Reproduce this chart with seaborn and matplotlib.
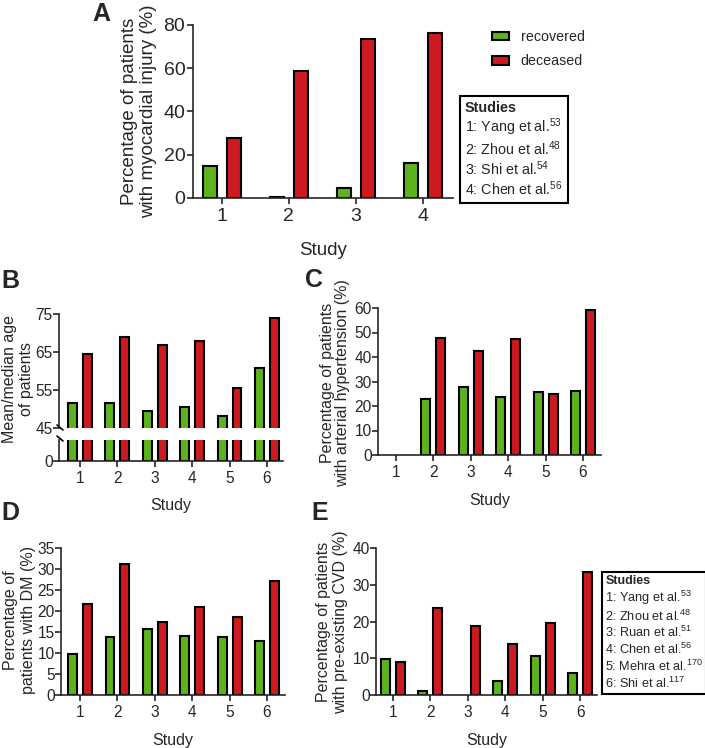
import numpy as np
import pandas as pd
import seaborn as sns
import matplotlib.pyplot as plt
from matplotlib.patches import Patch
from matplotlib.lines import Line2D

# ---- data ----
groups = ["recovered", "deceased"]

studies_a = ["1", "2", "3", "4"]
injury_recovered = [14.6, 0.5, 4.4, 16.0]
injury_deceased = [27.7, 58.9, 73.3, 76.3]

studies_bcde = ["1", "2", "3", "4", "5", "6"]
age_recovered = [51.5, 51.7, 49.5, 50.6, 48.2, 60.7]
age_deceased = [64.5, 68.9, 66.8, 67.9, 55.5, 73.9]

htn_recovered = [np.nan, 22.9, 27.6, 23.7, 25.9, 26.3]
htn_deceased = [np.nan, 47.7, 42.3, 47.3, 24.7, 59.3]

dm_recovered = [9.7, 13.7, 15.7, 14.0, 13.8, 12.8]
dm_deceased = [21.6, 31.3, 17.3, 20.9, 18.5, 27.2]

cvd_recovered = [9.7, 1.2, np.nan, 3.9, 10.5, 6.1]
cvd_deceased = [9.1, 23.8, 18.8, 13.9, 19.7, 33.6]

refs_a = ["1: Yang et al.$^{53}$", "2: Zhou et al.$^{48}$",
          "3: Shi et al.$^{54}$", "4: Chen et al.$^{56}$"]
refs_e = ["1: Yang et al.$^{53}$", "2: Zhou et al.$^{48}$",
          "3: Ruan et al.$^{51}$", "4: Chen et al.$^{56}$",
          "5: Mehra et al.$^{170}$", "6: Shi et al.$^{117}$"]

GREEN = "#5cb31c"
RED = "#cc1a20"

sns.set_style("ticks")
plt.rcParams["font.family"] = ["Liberation Sans", "DejaVu Sans"]
plt.rcParams["mathtext.default"] = "regular"
plt.rcParams["axes.linewidth"] = 1.2
plt.rcParams["xtick.major.width"] = 1.2
plt.rcParams["ytick.major.width"] = 1.2
plt.rcParams["xtick.major.size"] = 4
plt.rcParams["ytick.major.size"] = 4

TICK = 11.2
LAB = 11.5


def long_df(studies, rec, dec):
    return pd.DataFrame({
        "study": studies * 2,
        "group": [groups[0]] * len(studies) + [groups[1]] * len(studies),
        "value": list(rec) + list(dec),
    })


def bars(ax, df, order, width=0.8, gap=0.4):
    sns.barplot(data=df, x="study", y="value", hue="group", order=order,
                hue_order=groups, palette=[GREEN, RED], saturation=1,
                edgecolor="black", linewidth=1.5, width=width, gap=gap,
                errorbar=None, legend=False, ax=ax)
    sns.despine(ax=ax)
    ax.set_xlabel("")
    ax.set_ylabel("")
    ax.tick_params(labelsize=TICK)
    ax.tick_params(axis="y", pad=0.5)


W, H = 705, 748
fig = plt.figure(figsize=(W / 100, H / 100), dpi=100)


def px_axes(l, t, r, b):
    return fig.add_axes([l / W, 1 - b / H, (r - l) / W, (b - t) / H])


def px_text(x, y, s, **kw):
    return fig.text(x / W, 1 - y / H, s, ha="center", va="center", **kw)


# ---- panel A ----
axA = px_axes(193, 25, 453, 198)
bars(axA, long_df(studies_a, injury_recovered, injury_deceased), studies_a,
     width=0.72, gap=0.42)
axA.set_ylim(0, 80)
axA.set_yticks([0, 20, 40, 60, 80])
axA.set_xlim(-0.43, 3.45)
axA.tick_params(labelsize=14)
axA.tick_params(axis="y", pad=1.5)
px_text(139, 111, "Percentage of patients\nwith myocardial injury (%)",
        rotation=90, fontsize=13.5, linespacing=1.15)
axA.set_xlabel("Study", fontsize=13.5, labelpad=12)

fig.legend(handles=[Patch(facecolor=GREEN, edgecolor="black", lw=1.5),
                    Patch(facecolor=RED, edgecolor="black", lw=1.5)],
           labels=groups, loc="upper left", bbox_to_anchor=(492 / W, 1 - 30 / H),
           frameon=False, fontsize=10.3, handlelength=1.2, handleheight=0.55,
           labelspacing=0.72, handletextpad=0.8, borderpad=0, borderaxespad=0)

blank = [Line2D([], [], linestyle="none")]
legA = fig.legend(handles=blank * len(refs_a), labels=refs_a, title="Studies",
                  loc="upper left", bbox_to_anchor=(460 / W, 1 - 96 / H),
                  fontsize=10.3, title_fontproperties={"weight": "bold", "size": 10.4},
                  handlelength=0, handletextpad=0, labelspacing=0.1,
                  borderpad=0.35, borderaxespad=0, fancybox=False,
                  edgecolor="black", framealpha=1)
legA.get_frame().set_linewidth(1.5)
legA._legend_box.align = "left"
legA.get_title().set_horizontalalignment("center")

# ---- panel B (broken axis) ----
axB = px_axes(59, 314, 283, 428)
axB0 = px_axes(59, 440, 283, 461)
dfB = long_df(studies_bcde, age_recovered, age_deceased)
for ax in (axB, axB0):
    bars(ax, dfB, studies_bcde)
    ax.set_xlim(-0.56, 5.43)
axB.set_ylim(45, 75)
axB.set_yticks([45, 55, 65, 75])
axB.spines["bottom"].set_visible(False)
axB.tick_params(axis="x", bottom=False, labelbottom=False)
axB0.set_ylim(0, 40)
axB0.set_yticks([0])
axB0.tick_params(axis="x", pad=3)
axB0.set_xlabel("Study", fontsize=LAB, labelpad=9)
px_text(18, 379, "Mean/median age\nof patients", rotation=90,
        fontsize=LAB, linespacing=1.22)
# break marks
for y0 in (425, 436):
    fig.add_artist(Line2D([57 / W, 63 / W], [1 - y0 / H, 1 - (y0 + 5) / H],
                          color="black", lw=1.2))

# ---- panel C ----
axC = px_axes(378, 308, 601, 455)
bars(axC, long_df(studies_bcde, htn_recovered, htn_deceased), studies_bcde)
axC.set_xlim(-0.48, 5.48)
axC.set_ylim(0, 60)
axC.set_yticks(range(0, 61, 10))
px_text(335, 383, "Percentage of patients\nwith arterial hypertension (%)",
        rotation=90, fontsize=LAB, linespacing=1.0)
axC.set_xlabel("Study", fontsize=LAB, labelpad=9)

# ---- panel D ----
axD = px_axes(61, 548, 285, 695)
bars(axD, long_df(studies_bcde, dm_recovered, dm_deceased), studies_bcde)
axD.set_xlim(-0.51, 5.48)
axD.set_ylim(0, 35)
axD.set_yticks(range(0, 36, 5))
px_text(19, 620, "Percentage of\npatients with DM (%)", rotation=90,
        fontsize=LAB, linespacing=1.25)
axD.set_xlabel("Study", fontsize=LAB, labelpad=9)

# ---- panel E ----
axE = px_axes(376, 548, 597, 695)
bars(axE, long_df(studies_bcde, cvd_recovered, cvd_deceased), studies_bcde)
axE.set_xlim(-0.45, 5.45)
axE.set_ylim(0, 40)
axE.set_yticks(range(0, 41, 10))
px_text(332, 622, "Percentage of patients\nwith pre-existing CVD (%)",
        rotation=90, fontsize=LAB, linespacing=1.1)
axE.set_xlabel("Study", fontsize=LAB, labelpad=9)

legE = fig.legend(handles=blank * len(refs_e), labels=refs_e, title="Studies",
                  loc="upper left", bbox_to_anchor=(602 / W, 1 - 572 / H),
                  fontsize=9.2, title_fontproperties={"weight": "bold", "size": 9},
                  handlelength=0, handletextpad=0, labelspacing=0.12,
                  borderpad=0.25, borderaxespad=0, fancybox=False,
                  edgecolor="black", framealpha=1)
legE.get_frame().set_linewidth(1.5)
legE._legend_box.align = "left"
legE.get_title().set_horizontalalignment("center")

# ---- panel letters ----
for lab, x, y in [("A", 101, 14), ("B", 10, 281), ("C", 314, 280),
                  ("D", 10, 513), ("E", 320, 513)]:
    px_text(x, y, lab, fontsize=18, fontweight="bold")

fig.savefig("out.png", dpi=100)
